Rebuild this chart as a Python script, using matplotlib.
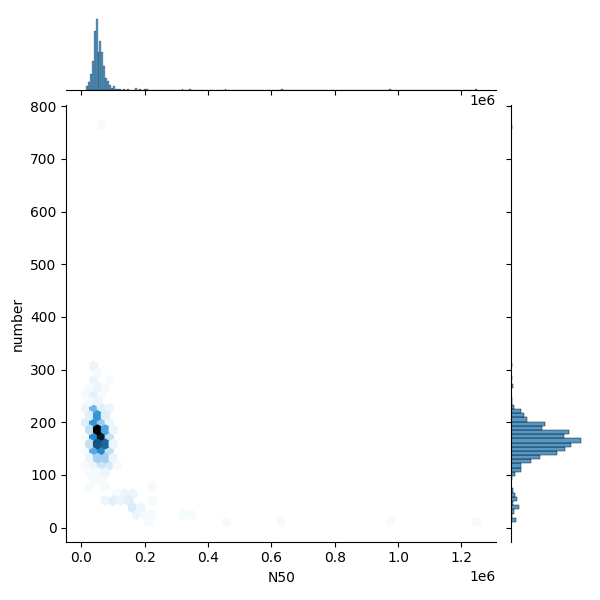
import numpy as np
import matplotlib
matplotlib.use("Agg")
import matplotlib.pyplot as plt
import seaborn as sns
from seaborn.utils import set_hls_values

# hex cells: N50, number of contigs, assemblies in cell
n50 = [39000,
       51000,
       39000, 88000,
       26000, 51000, 76000,
       14000, 39000, 63000,
       26000, 51000,
       14000, 39000, 63000, 88000,
       26000, 51000, 76000,
       14000, 39000, 63000, 88000,
       26000, 51000, 76000, 100000,
       14000, 39000, 63000, 88000,
       26000, 51000, 76000, 100000,
       14000, 39000, 63000, 88000,
       26000, 51000, 76000, 100000,
       14000, 39000, 63000, 88000, 113000,
       26000, 51000, 76000,
       39000, 63000,
       26000, 76000, 224000,
       113000, 137000, 162000,
       76000, 100000, 125000, 150000, 224000,
       162000, 187000,
       174000, 199000, 224000, 322000, 347000,
       211000, 458000, 631000, 976000, 1248000,
       63000]
number = [307,
          293,
          280, 280,
          267, 267, 267,
          253, 253, 253,
          240, 240,
          226, 226, 226, 226,
          213, 213, 213,
          199, 199, 199, 199,
          186, 186, 186, 186,
          172, 172, 172, 172,
          159, 159, 159, 159,
          146, 146, 146, 146,
          132, 132, 132, 132,
          119, 119, 119, 119, 119,
          105, 105, 105,
          92, 92,
          78, 78, 78,
          65, 65, 65,
          51, 51, 51, 51, 51,
          38, 38,
          24, 24, 24, 24, 24,
          11, 11, 11, 11, 11,
          764]
hex_count = [2,
             1,
             2, 1,
             1, 2, 1,
             1, 3, 1,
             1, 2,
             2, 14, 3, 2,
             3, 20, 3,
             3, 20, 10, 2,
             6, 42, 17, 2,
             1, 22, 38, 6,
             6, 30, 27, 2,
             1, 16, 22, 6,
             2, 9, 9, 2,
             1, 2, 5, 4, 1,
             1, 1, 2,
             1, 1,
             1, 1, 1,
             1, 2, 2,
             2, 3, 2, 3, 1,
             4, 2,
             2, 1, 1, 1, 1,
             1, 1, 1, 1, 1,
             1]

# top marginal: N50 histogram
n50_hist = [17000, 23000, 29000, 36000, 42000, 48000, 54000, 60000, 66000,
            73000, 79000, 85000, 91000, 97000, 103000, 110000, 116000,
            122000, 134000, 147000, 171000, 184000, 202000, 208000,
            322000, 347000, 458000, 631000, 976000, 1247000]
n50_hist_count = [4, 8, 17, 30, 61, 74, 40, 51, 40,
                  25, 13, 10, 5, 2, 4, 1, 1,
                  1, 1, 1, 2, 1, 1, 1,
                  1, 1, 1, 1, 1, 1]

# right marginal: number histogram
num_hist = [15, 23, 31, 39, 47, 55, 63, 71, 94, 102, 110, 118, 126, 134,
            142, 150, 158, 166, 174, 182, 189, 197, 205, 213, 221, 229,
            237, 245, 269, 283, 305, 763]
num_hist_count = [5, 1, 3, 8, 2, 6, 4, 2, 1, 4, 10, 10, 20, 28,
                  45, 53, 59, 69, 52, 57, 30, 33, 16, 13, 10, 3,
                  1, 1, 2, 1, 1, 1]

g = sns.JointGrid(height=6)
# labels first, then layout, the way jointplot does it (before any data)
g.set_axis_labels("N50", "number")
g.figure.tight_layout()
g.figure.subplots_adjust(hspace=0.2, wspace=0.2)

rgb = matplotlib.colors.to_rgb("C0")
cmap = sns.blend_palette([set_hls_values(rgb, l=l) for l in np.linspace(1, 0, 12)],
                         as_cmap=True)

g.ax_joint.hexbin(n50, number, C=hex_count, reduce_C_function=np.sum,
                  gridsize=50, cmap=cmap, vmin=0)

sns.histplot(x=n50_hist, weights=n50_hist_count, bins=200,
             binrange=(min(n50), max(n50)), ax=g.ax_marg_x)
sns.histplot(y=num_hist, weights=num_hist_count, bins=95,
             binrange=(min(number), max(number)), ax=g.ax_marg_y)

for ax in (g.ax_marg_x, g.ax_marg_y):
    ax.xaxis.label.set_visible(False)
    ax.yaxis.label.set_visible(False)

plt.savefig("out.png")
